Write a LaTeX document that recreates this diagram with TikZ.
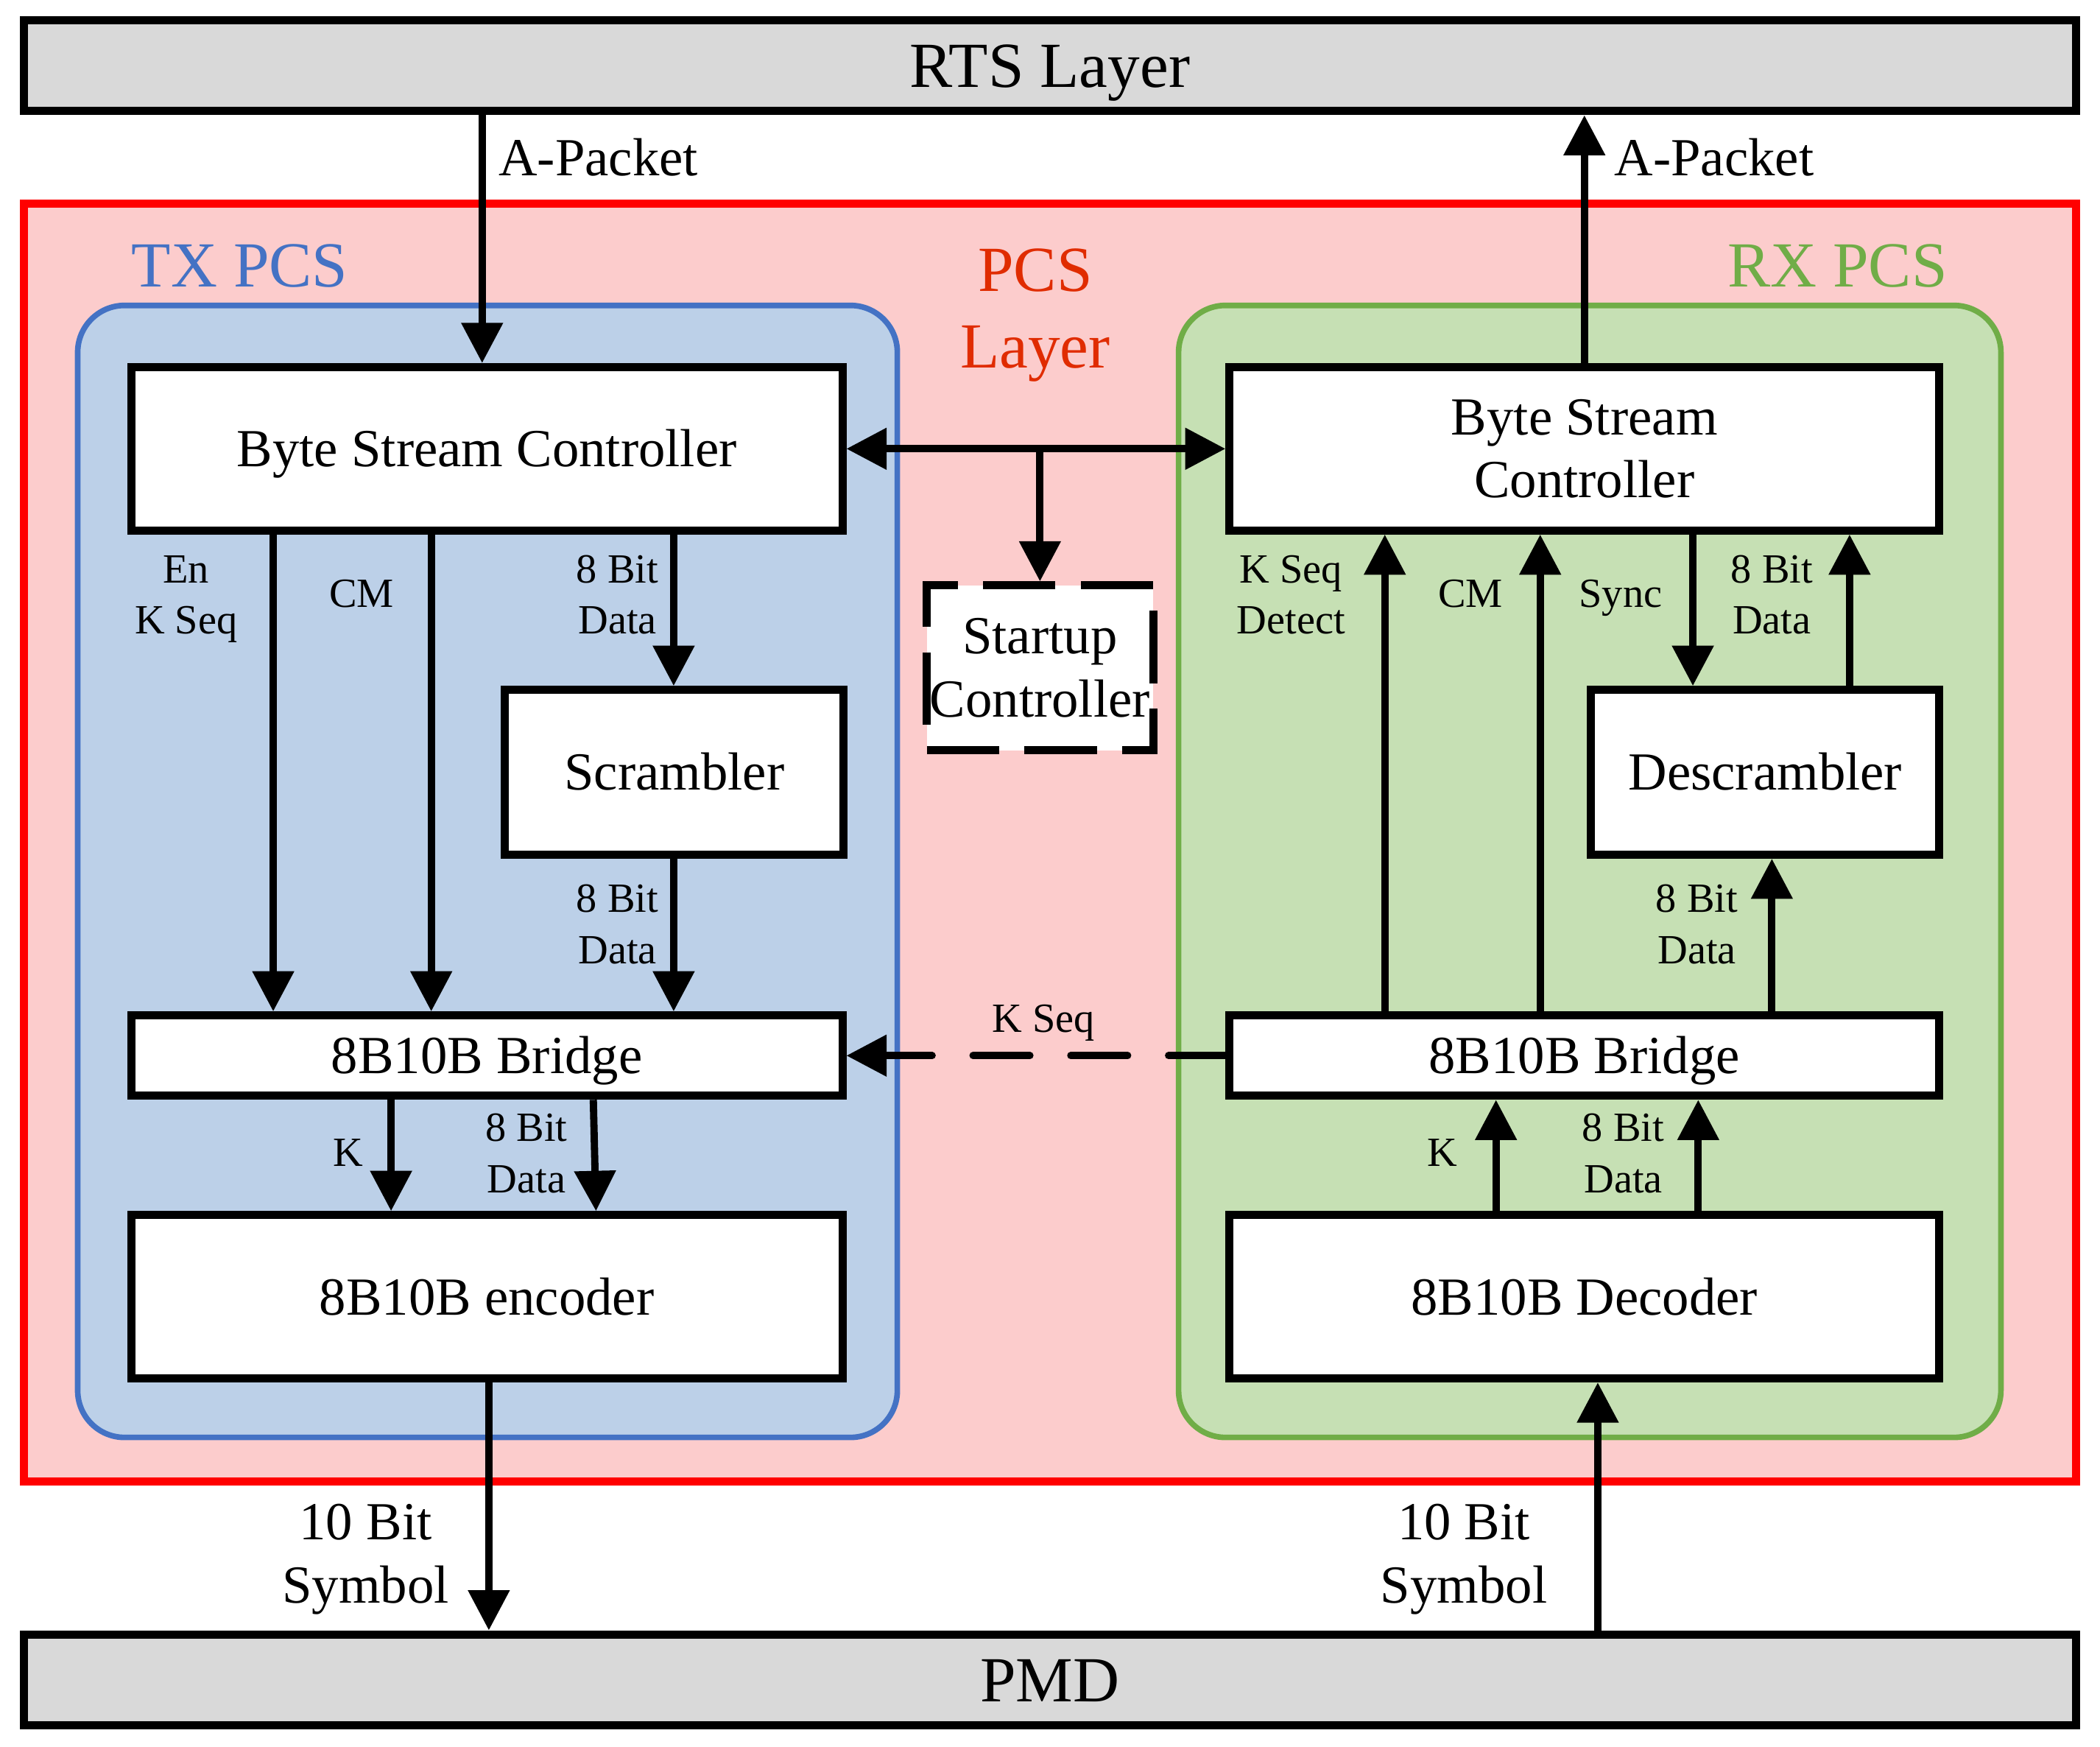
\documentclass[tikz,border=0pt]{standalone}
\usepackage{fontspec}
\setmainfont{Liberation Serif}
\usetikzlibrary{arrows.meta}
\definecolor{rtsgray}{RGB}{217,217,217}
\definecolor{pcsfill}{RGB}{252,204,204}
\definecolor{pcsred}{RGB}{255,0,0}
\definecolor{pcstext}{RGB}{224,44,0}
\definecolor{txfill}{RGB}{188,208,232}
\definecolor{txblue}{RGB}{68,114,196}
\definecolor{rxfill}{RGB}{198,224,180}
\definecolor{rxgreen}{RGB}{112,173,71}
\begin{document}
\begin{tikzpicture}[x=0.5pt,y=-0.5pt,
  layer/.style={draw=black, line width=3pt, fill=rtsgray, minimum width=766pt, minimum height=34pt, inner sep=0pt, font=\fontsize{24}{28}\selectfont, text height=16.1pt, text depth=0pt},
  region/.style={line width=2.1pt, rounded corners=17.5pt, minimum height=422.5pt, inner sep=0pt},
  box/.style={draw=black, line width=3pt, fill=white, inner sep=0pt, align=center, font=\fontsize{20}{23.5}\selectfont},
  oneA/.style={text height=16.1pt, text depth=0pt},
  oneB/.style={text height=13.4pt, text depth=0pt},
  oneC/.style={text height=10.4pt, text depth=0pt},
  lbl/.style={font=\fontsize{15.5}{19}\selectfont, align=center, inner sep=0pt},
  mid/.style={font=\fontsize{20}{23.5}\selectfont, align=center, inner sep=0pt},
  big/.style={font=\fontsize{24}{28.5}\selectfont, align=center, inner sep=0pt},
  arr/.style={line width=2.7pt, -{Triangle[length=15pt,width=15pt]}},
  arrb/.style={line width=2.7pt, {Triangle[length=15pt,width=15pt]}-{Triangle[length=15pt,width=15pt]}},
  kseq/.style={line width=2.7pt, line cap=round, dash pattern=on 21.25pt off 15.25pt, -{Triangle[length=15pt,width=15pt]}},
]
\useasboundingbox (0,0) rectangle (1568,1304);
% layers and regions
\node[layer] (rts) at (784,49) {RTS Layer};
\node[draw=pcsred, fill=pcsfill, line width=3pt, minimum width=766pt, minimum height=477pt, inner sep=0pt] (pcs) at (784,629) {};
\node[region, draw=txblue, fill=txfill, minimum width=306pt] (txr) at (364,650.5) {};
\node[region, draw=rxgreen, fill=rxfill, minimum width=307pt] (rxr) at (1187,650.5) {};
\node[big, oneA, text=txblue] (txl) at (179,198) {TX PCS};
\node[big, oneA, text=rxgreen] (rxl) at (1372,198) {RX PCS};
\node[big, text=pcstext] (pcsl) at (773,235.5) {PCS\\Layer};
\node[layer] (pmd) at (784,1254) {PMD};
% TX boxes
\node[box, oneB, minimum width=265.5pt, minimum height=61pt] (txbsc) at (363.5,335) {Byte Stream Controller};
\node[box, oneB, minimum width=126.5pt, minimum height=61.5pt] (scr) at (503.5,576.5) {Scrambler};
\node[box, oneB, minimum width=265.5pt, minimum height=30pt] (txbr) at (363.5,788) {8B10B Bridge};
\node[box, oneB, minimum width=265.5pt, minimum height=61pt] (enc) at (363.5,968) {8B10B encoder};
% RX boxes
\node[box, minimum width=265pt, minimum height=61pt] (rxbsc) at (1183,335) {Byte Stream\\Controller};
\node[box, oneB, minimum width=130pt, minimum height=61.5pt] (dscr) at (1318,576.5) {Descrambler};
\node[box, oneB, minimum width=265pt, minimum height=30pt] (rxbr) at (1183,788) {8B10B Bridge};
\node[box, oneB, minimum width=265pt, minimum height=61pt] (dec) at (1183,968) {8B10B Decoder};
% startup
\node[box, dash pattern=on 27pt off 9.5pt, minimum width=84.5pt, minimum height=61.5pt] (start) at (776.5,498.5) {Startup\\Controller};
% helper x positions
\coordinate (xa) at (360,0);
\coordinate (xb) at (204,0);
\coordinate (xc) at (322,0);
\coordinate (xd) at (503,0);
\coordinate (xe) at (292,0);
\coordinate (xf) at (443,0);
\coordinate (xg) at (445,0);
\coordinate (xh) at (365,0);
\coordinate (xi) at (1034,0);
\coordinate (xj) at (1150,0);
\coordinate (xk) at (1264,0);
\coordinate (xl) at (1381,0);
\coordinate (xm) at (1323,0);
\coordinate (xn) at (1117,0);
\coordinate (xo) at (1268,0);
\coordinate (xp) at (1193,0);
% top connections
\draw[arr] (rts.south -| xa) -- (txbsc.north -| xa);
\node[mid, oneB, anchor=west] (ap1) at (372,118) {A-Packet};
\draw[arr] (rxbsc.north) -- (rxbsc.north |- rts.south);
\node[mid, oneB, anchor=west] (ap2) at (1205,118) {A-Packet};
\draw[arrb] (txbsc.east) -- (rxbsc.west);
\draw[arr] (txbsc.east -| start.north) -- (start.north);
% TX arrows
\draw[arr] (txbsc.south -| xb) -- (txbr.north -| xb);
\draw[arr] (txbsc.south -| xc) -- (txbr.north -| xc);
\draw[arr] (txbsc.south -| xd) -- (scr.north -| xd);
\draw[arr] (scr.south -| xd) -- (txbr.north -| xd);
\draw[arr] (txbr.south -| xe) -- (enc.north -| xe);
\draw[arr] (txbr.south -| xf) -- (enc.north -| xg);
\draw[arr] (enc.south -| xh) -- (pmd.north -| xh);
% TX labels
\node[lbl] (l1) at (139,447.5) {En\\K Seq};
\node[lbl, oneC] (l2) at (270,443) {CM};
\node[lbl] (l3) at (461,444) {8 Bit\\Data};
\node[lbl] (l4) at (461,690) {8 Bit\\Data};
\node[lbl, oneC] (l5) at (260,860) {K};
\node[lbl] (l6) at (393,861) {8 Bit\\Data};
\node[mid] (l7) at (273,1164) {10 Bit\\Symbol};
% RX arrows
\draw[arr] (rxbr.north -| xi) -- (rxbsc.south -| xi);
\draw[arr] (rxbr.north -| xj) -- (rxbsc.south -| xj);
\draw[arr] (rxbsc.south -| xk) -- (dscr.north -| xk);
\draw[arr] (dscr.north -| xl) -- (rxbsc.south -| xl);
\draw[arr] (rxbr.north -| xm) -- (dscr.south -| xm);
\draw[arr] (dec.north -| xn) -- (rxbr.south -| xn);
\draw[arr] (dec.north -| xo) -- (rxbr.south -| xo);
\draw[arr] (pmd.north -| xp) -- (dec.south -| xp);
\draw[kseq] (rxbr.west) -- (txbr.east);
% RX labels
\node[lbl] (r1) at (964,444) {K Seq\\Detect};
\node[lbl, oneC] (r2) at (1098,443) {CM};
\node[lbl, oneC] (r3) at (1210,443) {Sync};
\node[lbl] (r4) at (1323,444) {8 Bit\\Data};
\node[lbl] (r5) at (1267,690) {8 Bit\\Data};
\node[lbl, oneC] (r6) at (1077,860) {K};
\node[lbl] (r7) at (1212,861) {8 Bit\\Data};
\node[mid] (r8) at (1093,1164) {10 Bit\\Symbol};
\node[lbl, oneC] (ks) at (779,760) {K Seq};
\end{tikzpicture}
\end{document}
